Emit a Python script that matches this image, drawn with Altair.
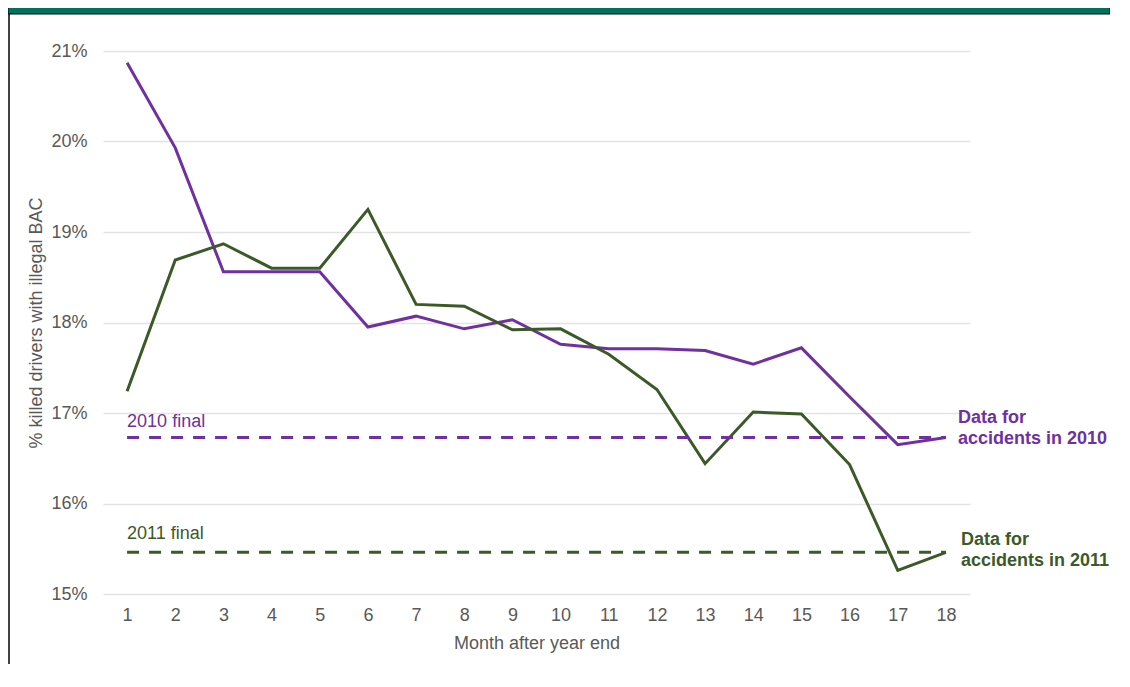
import altair as alt
import pandas as pd

# ---- data ----
months = list(range(1, 19))
pct_2010 = [20.87, 19.93, 18.56, 18.56, 18.56, 17.95, 18.07, 17.93, 18.03,
            17.76, 17.71, 17.71, 17.69, 17.54, 17.72, 17.18, 16.65, 16.73]
pct_2011 = [17.24, 18.69, 18.87, 18.60, 18.60, 19.25, 18.20, 18.18, 17.92,
            17.93, 17.65, 17.26, 16.44, 17.01, 16.99, 16.43, 15.26, 15.46]
series_names = ["2010", "2011"]
final_values = [16.73, 15.46]
final_labels = ["2010 final", "2011 final"]
end_labels = [["Data for", "accidents in 2010"], ["Data for", "accidents in 2011"]]
series_colors = ["#7030A0", "#3B5A27"]
y_ticks = [15, 16, 17, 18, 19, 20, 21]
x_title = "Month after year end"
y_title = "% killed drivers with illegal BAC"

FONT = "Liberation Sans"
GRAY = "#595959"
W, H = 867, 543
PAD = {"left": 95, "top": 43, "right": 140, "bottom": 70}

lines_df = pd.DataFrame({
    "month": months * 2,
    "value": pct_2010 + pct_2011,
    "series": [series_names[0]] * len(months) + [series_names[1]] * len(months),
})
finals_df = pd.DataFrame({
    "series": series_names,
    "final": final_values,
    "start": [months[0]] * 2,
    "end": [months[-1]] * 2,
})

color_scale = alt.Scale(domain=series_names, range=series_colors)
x_scale = alt.Scale(domain=[months[0] - 0.5, months[-1] + 0.5], nice=False, zero=False)
y_scale = alt.Scale(domain=[y_ticks[0], y_ticks[-1]], nice=False, zero=False)

x_axis = alt.Axis(values=months, grid=False, domain=False, ticks=False,
                  labelFontSize=18, labelColor=GRAY, labelFont=FONT, labelPadding=12,
                  title=x_title, titleFontSize=18, titleColor=GRAY, titleFont=FONT,
                  titleFontWeight="normal", titlePadding=10, format="d")
y_axis = alt.Axis(values=y_ticks, grid=True, gridColor="#E3E3E3", gridWidth=1.3,
                  domain=False, ticks=False, labelExpr="datum.value + '%'",
                  labelFontSize=18, labelColor=GRAY, labelFont=FONT, labelPadding=16,
                  title=y_title, titleFontSize=18, titleColor=GRAY, titleFont=FONT,
                  titleFontWeight="normal", titlePadding=5)

lines = alt.Chart(lines_df).mark_line(strokeWidth=3).encode(
    x=alt.X("month:Q", scale=x_scale, axis=x_axis),
    y=alt.Y("value:Q", scale=y_scale, axis=y_axis),
    color=alt.Color("series:N", scale=color_scale, legend=None),
)

rules = alt.Chart(finals_df).mark_rule(strokeWidth=3, strokeDash=[12, 10]).encode(
    x=alt.X("start:Q", scale=x_scale),
    x2="end:Q",
    y=alt.Y("final:Q", scale=y_scale),
    color=alt.Color("series:N", scale=color_scale, legend=None),
)

# label offsets (style only)
final_style = {"2010": {"dy": -15}, "2011": {"dy": -18}}
end_style = {"2010": {"dx": 12, "dy": -19}, "2011": {"dx": 15, "dy": -12}}

text_layers = []
for name, val, flbl, elbl, col in zip(series_names, final_values, final_labels,
                                      end_labels, series_colors):
    start_df = pd.DataFrame({"month": [months[0]], "value": [val]})
    end_df = pd.DataFrame({"month": [months[-1]], "value": [val]})
    text_layers.append(
        alt.Chart(start_df).mark_text(
            align="left", baseline="middle", fontSize=18, font=FONT, color=col,
            dy=final_style[name]["dy"],
        ).encode(
            x=alt.X("month:Q", scale=x_scale),
            y=alt.Y("value:Q", scale=y_scale),
            text=alt.value(flbl),
        )
    )
    text_layers.append(
        alt.Chart(end_df).mark_text(
            align="left", baseline="middle", fontSize=18, fontWeight="bold",
            font=FONT, lineHeight=21, color=col,
            dx=end_style[name]["dx"], dy=end_style[name]["dy"],
        ).encode(
            x=alt.X("month:Q", scale=x_scale),
            y=alt.Y("value:Q", scale=y_scale),
            text=alt.value(elbl),
        )
    )

# decorative frame: teal band at top and black rule on the left
frame_df = pd.DataFrame({"k": [0]})
band = alt.Chart(frame_df).mark_rect(color="#00705F", stroke="#000000", strokeWidth=1).encode(
    x=alt.value(-PAD["left"]), x2=alt.value(W + PAD["right"]),
    y=alt.value(-PAD["top"] - 1), y2=alt.value(-PAD["top"] + 6),
)
left_border = alt.Chart(frame_df).mark_rule(color="#000000", strokeWidth=1.5).encode(
    x=alt.value(-PAD["left"] + 1), y=alt.value(-PAD["top"] + 6), y2=alt.value(H + PAD["bottom"]),
)

chart = alt.layer(lines, rules, *text_layers, band, left_border).properties(
    width=W, height=H,
    autosize=alt.AutoSizeParams(type="none"),
    padding=PAD,
    background="white",
).configure_view(stroke=None)

chart.save("out.html", embed_options={"renderer": "svg", "actions": False})
